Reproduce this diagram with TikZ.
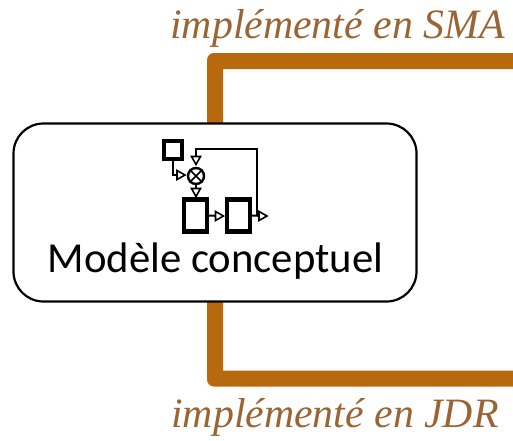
\documentclass[tikz,border=0pt]{standalone}
\usepackage{fontspec}
\setmainfont{Liberation Serif}
\newfontfamily\carl{Carlito}
\usetikzlibrary{calc}
\definecolor{band}{HTML}{B8690D}
\definecolor{labelc}{HTML}{9A6433}
\tikzset{
  x=1pt,y=-1pt,
  mainbox/.style={draw=black,line width=2.2pt,fill=white,rounded corners=30pt,minimum width=403pt,minimum height=178pt,inner sep=0pt},
  caption/.style={text=labelc,font=\fontsize{41.8}{44}\selectfont\itshape,anchor=base,inner sep=0pt},
  maintext/.style={font=\carl\fontsize{42.7}{46}\selectfont,anchor=base,inner sep=0pt},
  smallblock/.style={draw=black,line width=3.6pt,fill=white,minimum width=18pt,minimum height=18pt,inner sep=0pt},
  bigblock/.style={draw=black,line width=4.2pt,fill=white,minimum width=23pt,minimum height=32pt,inner sep=0pt},
  sumnode/.style={draw=black,line width=2.4pt,fill=white,circle,minimum size=16pt,inner sep=0pt},
  wire/.style={draw=black,line width=2pt},
  tip/.style={draw=black,line width=1.6pt,fill=white,line join=miter},
}
\newcommand{\tipright}[1]{\draw[tip] ($(#1)+(-4,-4.5)$) -- ($(#1)+(4,0)$) -- ($(#1)+(-4,4.5)$) -- cycle;}
\newcommand{\tipdown}[1]{\draw[tip] ($(#1)+(-4.5,-4)$) -- ($(#1)+(0,4)$) -- ($(#1)+(4.5,-4)$) -- cycle;}
\begin{document}
\begin{tikzpicture}
\useasboundingbox (0,0) rectangle (513,440);
\fill[band] (513,53) [rounded corners=7pt] -- (207,53) -- (207,386.5) [sharp corners] -- (513,386.5) -- (513,370.5) -- (223,370.5) -- (223,69) -- (513,69) -- cycle;
\node[mainbox] (box) at (215,212.5) {};
\node[maintext] (title) at (215.5,272) {Modèle conceptuel};
\node[caption] (sma) at (337.5,38) {implémenté en SMA};
\node[caption] (jdr) at (335,427) {implémenté en JDR};
% icon
\node[smallblock] (src) at (173,150) {};
\node[bigblock] (b1) at (195.5,215.5) {};
\node[bigblock] (b2) at (238.5,215.5) {};
\node[sumnode] (sum) at (196,176) {};
\draw[black,line width=1.5pt] (sum.north west) -- (sum.south east) (sum.north east) -- (sum.south west);
\coordinate (outend) at (263,216);
\coordinate (fbtap) at (257,216);
\coordinate (fbin) at (196,160.5);
\coordinate (srcin) at (181,175);
\coordinate (sumout) at (196,192.5);
\coordinate (midtip) at (219.5,216);
\draw[wire] (src.south) -- (src.south |- srcin) -- (srcin);
\draw[wire] (b2.east) -- (outend);
\draw[wire] (fbtap) -- (257,148.5) -- (196,148.5) -- (fbin);
\draw[wire] (b1.east) -- (midtip);
\draw[wire] (sum.south) -- (sumout);
\tipright{srcin}
\tipdown{fbin}
\tipdown{sumout}
\tipright{midtip}
\tipright{outend}
\end{tikzpicture}
\end{document}
